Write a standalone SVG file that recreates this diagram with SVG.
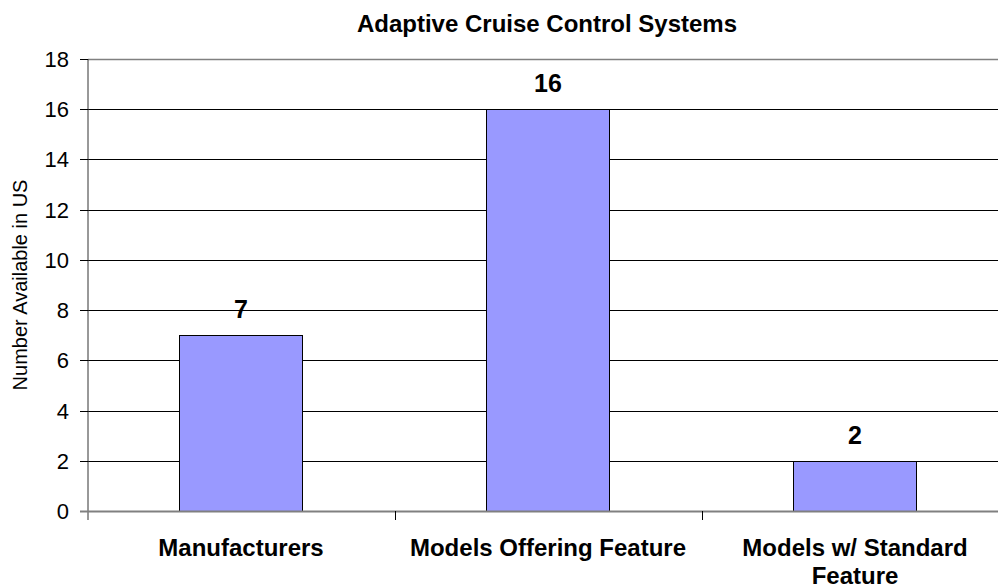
<svg xmlns="http://www.w3.org/2000/svg" width="998" height="588" viewBox="0 0 998 588">
  <style>
    text { font-family: "Liberation Sans", Arial, sans-serif; fill: #000; }
    .title { font-size: 24px; font-weight: bold; text-anchor: middle; }
    .tick { font-size: 22px; text-anchor: end; }
    .cat { font-size: 24px; font-weight: bold; text-anchor: middle; }
    .val { font-size: 25px; font-weight: bold; text-anchor: middle; }
    .ytitle { font-size: 20px; text-anchor: middle; }
    .grid { stroke: #000; stroke-width: 1; }
    .axis { stroke: #808080; stroke-width: 2; }
    .bar { fill: #9999ff; stroke: #000; stroke-width: 1; }
  </style>
  <rect width="998" height="588" fill="#fff"/>
  <text class="title" x="547" y="32">Adaptive Cruise Control Systems</text>

  <g id="gridlines">
    <line class="grid" x1="88" y1="59.5" x2="1010" y2="59.5" style="stroke:#808080;stroke-width:1.5"/>
    <line class="grid" x1="88" y1="109.5" x2="1010" y2="109.5"/>
    <line class="grid" x1="88" y1="159.5" x2="1010" y2="159.5"/>
    <line class="grid" x1="88" y1="210.5" x2="1010" y2="210.5"/>
    <line class="grid" x1="88" y1="260.5" x2="1010" y2="260.5"/>
    <line class="grid" x1="88" y1="310.5" x2="1010" y2="310.5"/>
    <line class="grid" x1="88" y1="360.5" x2="1010" y2="360.5"/>
    <line class="grid" x1="88" y1="411.5" x2="1010" y2="411.5"/>
    <line class="grid" x1="88" y1="461.5" x2="1010" y2="461.5"/>
  </g>

  <g id="y-axis">
    <line x1="88" y1="59" x2="88" y2="520" stroke="#333" stroke-width="1"/>
    <g class="grid">
      <line x1="80" y1="59.5" x2="88" y2="59.5"/>
      <line x1="80" y1="109.5" x2="88" y2="109.5"/>
      <line x1="80" y1="159.5" x2="88" y2="159.5"/>
      <line x1="80" y1="210.5" x2="88" y2="210.5"/>
      <line x1="80" y1="260.5" x2="88" y2="260.5"/>
      <line x1="80" y1="310.5" x2="88" y2="310.5"/>
      <line x1="80" y1="360.5" x2="88" y2="360.5"/>
      <line x1="80" y1="411.5" x2="88" y2="411.5"/>
      <line x1="80" y1="461.5" x2="88" y2="461.5"/>
      <line x1="80" y1="511.5" x2="88" y2="511.5"/>
    </g>
    <text class="tick" x="69" y="67">18</text>
    <text class="tick" x="69" y="117">16</text>
    <text class="tick" x="69" y="167">14</text>
    <text class="tick" x="69" y="218">12</text>
    <text class="tick" x="69" y="268">10</text>
    <text class="tick" x="69" y="318">8</text>
    <text class="tick" x="69" y="368">6</text>
    <text class="tick" x="69" y="419">4</text>
    <text class="tick" x="69" y="469">2</text>
    <text class="tick" x="69" y="519">0</text>
    <text class="ytitle" transform="translate(27,285) rotate(-90)">Number Available in US</text>
  </g>

  <g id="bar-manufacturers">
    <rect class="bar" x="179.5" y="335.5" width="123" height="176"/>
    <text class="val" x="241" y="318">7</text>
    <text class="cat" x="241" y="556">Manufacturers</text>
  </g>

  <g id="bar-models-offering">
    <rect class="bar" x="486.5" y="109.5" width="123" height="402"/>
    <text class="val" x="548" y="92">16</text>
    <text class="cat" x="548" y="556">Models Offering Feature</text>
  </g>

  <g id="bar-models-standard">
    <rect class="bar" x="793.5" y="461.5" width="123" height="50"/>
    <text class="val" x="855" y="444">2</text>
    <text class="cat" x="855" y="556">Models w/ Standard</text>
    <text class="cat" x="855" y="584">Feature</text>
  </g>

  <g id="x-axis">
    <line class="axis" x1="80" y1="511.5" x2="1010" y2="511.5"/>
    <line class="grid" x1="395.5" y1="511" x2="395.5" y2="520"/>
    <line class="grid" x1="702.5" y1="511" x2="702.5" y2="520"/>
  </g>
</svg>
